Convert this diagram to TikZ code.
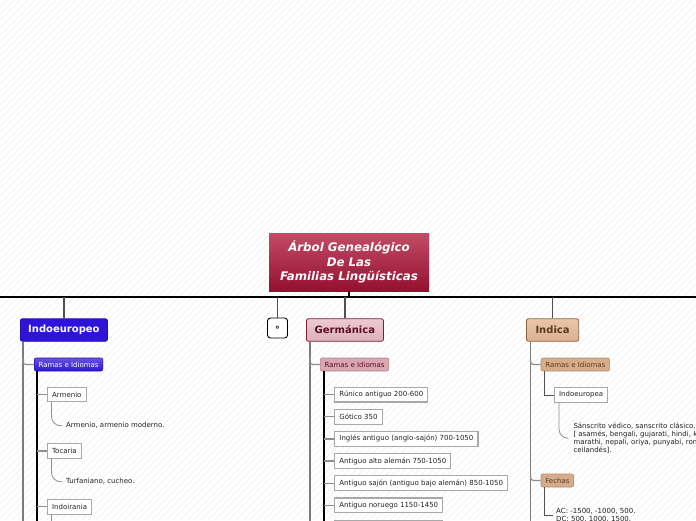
\documentclass[tikz,border=0pt]{standalone}
\usepackage{fontspec}
\setmainfont{DejaVu Sans}
\usetikzlibrary{positioning,calc}
\definecolor{Hatch}{HTML}{EFEFEF}
\definecolor{Ink}{HTML}{222222}
\definecolor{Dark}{HTML}{505050}
\definecolor{Trunk}{HTML}{7C7C7C}
\definecolor{Twig}{HTML}{8E8E8E}
\definecolor{LeafLine}{HTML}{A8A8A8}
\definecolor{TitleTop}{HTML}{C24C66}
\definecolor{TitleBot}{HTML}{951030}
\definecolor{Indigo}{HTML}{2E14D8}
\definecolor{IndigoSoft}{HTML}{6A52E6}
\definecolor{IndigoLine}{HTML}{2410B0}
\definecolor{RoseSoft}{HTML}{EDCAD2}
\definecolor{Rose}{HTML}{DDB0BA}
\definecolor{RoseLine}{HTML}{7B1E36}
\definecolor{RoseInk}{HTML}{5C0F22}
\definecolor{RoseSub}{HTML}{D9A6B1}
\definecolor{RoseSubLine}{HTML}{B48592}
\definecolor{SandSoft}{HTML}{E8C6A8}
\definecolor{Sand}{HTML}{DCB090}
\definecolor{SandLine}{HTML}{8C6440}
\definecolor{SandInk}{HTML}{5A3A1C}
\definecolor{SandSub}{HTML}{D5AC8C}
\definecolor{SandSubLine}{HTML}{B48E6E}
\tikzset{
  hatch/.style={draw=Hatch,line width=.5pt},
  title/.style={top color=TitleTop,bottom color=TitleBot,text=white,align=center,minimum width=160pt,minimum height=58pt,inner sep=0pt,font=\fontsize{11.8}{14.5}\selectfont\bfseries\itshape},
  topic/.style={rounded corners=2pt,line width=.8pt,minimum height=22.5pt,inner xsep=0pt,inner ysep=0pt,anchor=west,font=\fontsize{10}{12}\selectfont\bfseries},
  sub/.style={rounded corners=2pt,line width=.6pt,minimum height=13pt,inner xsep=4.3pt,inner ysep=0pt,anchor=west,font=\fontsize{7}{8}\selectfont},
  leaf/.style={draw=LeafLine,fill=white,line width=1.1pt,minimum height=14.5pt,inner xsep=4.6pt,inner ysep=0pt,anchor=west,text=Ink,font=\fontsize{7}{8}\selectfont},
  knot/.style={draw=black,fill=white,rounded corners=3pt,line width=.9pt,minimum width=20pt,minimum height=20pt,inner sep=0pt,font=\fontsize{9}{10}\selectfont\bfseries},
  note/.style={inner sep=0pt,anchor=west,align=left,text=Ink,font=\fontsize{7}{8}\selectfont},
  bar/.style={draw=black,line width=1.8pt},
  drop/.style={draw=Dark,line width=1.2pt},
  trunk/.style={draw=Trunk,line width=1.5pt},
  stem/.style={draw=black,line width=1.5pt},
  twig/.style={draw=Twig,line width=1.2pt,rounded corners=3pt},
  elbow/.style={draw=Dark,line width=.9pt},
  curl/.style={draw=Twig,line width=.8pt,rounded corners=9pt}
}
\begin{document}
\begin{tikzpicture}[x=1pt,y=-1pt]
\useasboundingbox (0,0) rectangle (696,520);
\clip (0,0) rectangle (696,520);
\fill[white] (0,0) rectangle (696,520);
% background stripes
\foreach \i in {0,7,...,1218}
  \draw[hatch] (\i,0) -- ({\i-520},520);

% title and main bar
\node[title] (root) at (349,262) {Árbol Genealógico\\De Las\\Familias Lingüísticas};
\coordinate (bar-l) at (0,297);
\coordinate (bar-r) at (696,297);
\coordinate (foot) at (0,530);
\draw[bar] (bar-l) -- (bar-r);
\draw[bar,line width=1.2pt] (root.south) -- (root.south |- bar-l);

% Indoeuropeo
\node[topic,fill=Indigo,draw=IndigoLine,text=white,minimum width=87pt] (ie) at (20,330) {Indoeuropeo};
\draw[drop] (ie.north) -- (ie.north |- bar-l);
\coordinate (ie-t) at ([xshift=3pt]ie.south west);
\draw[trunk] (ie-t) -- (ie-t |- foot);
\node[sub,top color=IndigoSoft,bottom color=Indigo,draw=IndigoLine,text=white] (ie-r) at (34,364.5) {Ramas e Idiomas};
\draw[twig] (ie-t |- ie-r.north) |- (ie-r.west);
\coordinate (ie-s) at ([xshift=3pt]ie-r.south west);
\draw[stem] (ie-s) -- (ie-s |- foot);

\node[leaf] (ie-1) at (47,394.5) {Armenio};
\node[note] (ie-1n) at (66,425.7) {Armenio, armenio moderno.};
\node[leaf] (ie-2) at (47,451) {Tocaria};
\node[note] (ie-2n) at (66,481.7) {Turfaniano, cucheo.};
\node[leaf] (ie-3) at (47,506.8) {Indoirania};
\foreach \k in {1,2,3}
  \draw[twig] (ie-\k.west) -- (ie-\k.west -| ie-s);
\draw[curl] ([xshift=4.5pt]ie-1.south west) |- ([xshift=-3.5pt]ie-1n.west);
\draw[curl] ([xshift=4.5pt]ie-2.south west) |- ([xshift=-3.5pt]ie-2n.west);
\coordinate (ie-3c) at ([xshift=4.5pt]ie-3.south west);
\draw[curl] (ie-3c) -- (ie-3c |- foot);

% empty topic
\node[knot] (dot) at (277.5,328) {∘};
\draw[drop] (dot.north) -- (dot.north |- bar-l);

% Germanica
\node[topic,top color=RoseSoft,bottom color=Rose,draw=RoseLine,text=RoseInk,minimum width=77pt] (ge) at (306,330) {Germánica};
\draw[drop] (ge.north) -- (ge.north |- bar-l);
\coordinate (ge-t) at ([xshift=4pt]ge.south west);
\draw[trunk] (ge-t) -- (ge-t |- foot);
\node[sub,fill=RoseSub,draw=RoseSubLine,text=RoseInk] (ge-r) at (320,364.5) {Ramas e Idiomas};
\draw[twig] (ge-t |- ge-r.north) |- (ge-r.west);
\coordinate (ge-s) at ([xshift=4pt]ge-r.south west);
\draw[stem] (ge-s) -- (ge-s |- foot);

\node[leaf] (ge-1) at (334.3,394.7) {Rúnico antiguo 200-600};
\node[leaf,below=6.5pt of ge-1.south west,anchor=north west] (ge-2) {Gótico 350};
\node[leaf,below=6.5pt of ge-2.south west,anchor=north west] (ge-3) {Inglés antiguo (anglo-sajón) 700-1050};
\node[leaf,below=6.5pt of ge-3.south west,anchor=north west] (ge-4) {Antiguo alto alemán 750-1050};
\node[leaf,below=6.5pt of ge-4.south west,anchor=north west] (ge-5) {Antiguo sajón (antiguo bajo alemán) 850-1050};
\node[leaf,below=6.5pt of ge-5.south west,anchor=north west] (ge-6) {Antiguo noruego 1150-1450};
\node[leaf,below=6.5pt of ge-6.south west,anchor=north west,minimum width=107.4pt] (ge-7) {};
\foreach \k in {1,...,7}
  \draw[twig] (ge-\k.west) -- (ge-\k.west -| ge-s);

% Indica
\node[topic,top color=SandSoft,bottom color=Sand,draw=SandLine,text=SandInk,minimum width=52.3pt] (in) at (526,330) {Indica};
\draw[drop] (in.north) -- (in.north |- bar-l);
\coordinate (in-t) at ([xshift=4.5pt]in.south west);
\draw[trunk] (in-t) -- (in-t |- foot);
\node[sub,fill=SandSub,draw=SandSubLine,text=SandInk] (in-r) at (540.7,364.5) {Ramas e Idiomas};
\draw[twig] (in-t |- in-r.north) |- (in-r.west);
\node[leaf] (in-1) at (554,395) {Indoeuropea};
\coordinate (in-s) at ([xshift=3.6pt]in-r.south west);
\draw[elbow] (in-s) |- (in-1.west);
\node[note] (in-1n) at (573.3,438.2) {Sánscrito védico, sanscrito clásico, pali,\\{}[ asamés, bengali, gujarati, hindi, kachemir,\\marathi, nepali, oriya, punyabi, romaní,\\ceilandés].};
\draw[curl] ([xshift=5pt]in-1.south west) |- ([xshift=-5pt]in-1n.west);

\node[sub,fill=SandSub,draw=SandSubLine,text=SandInk] (in-f) at (540.7,480.5) {Fechas};
\draw[twig] (in-t |- in-f.north) |- (in-f.west);
\coordinate (in-fs) at ([xshift=3.6pt]in-f.south west);
\node[note] (in-fn) at (556,515.5) {AC: -1500, -1000, 500.\\DC: 500, 1000, 1500.};
\draw[elbow] (in-fs) |- ([xshift=-3pt]in-fn.west);
\end{tikzpicture}
\end{document}
